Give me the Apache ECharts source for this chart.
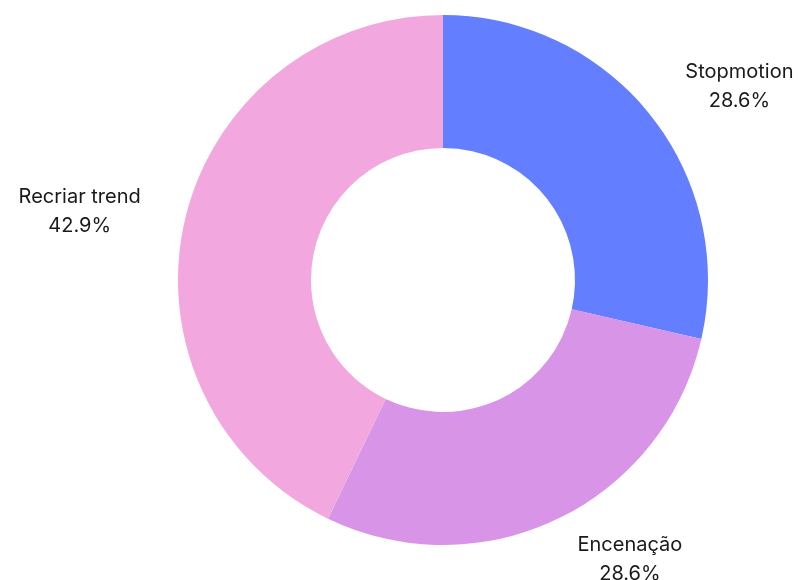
<!DOCTYPE html>
<html>
<head>
<meta charset="utf-8">
<script src="https://cdn.jsdelivr.net/npm/echarts@6/dist/echarts.min.js"></script>
<style>html,body{margin:0;padding:0;background:#fff;}#c{width:799px;height:580px;}</style>
</head>
<body>
<div id="c"></div>
<script>
const categories = ['Stopmotion', 'Encenação', 'Recriar trend'];
const values = [2, 2, 3];
const colors = ['#637EFE', '#D894E6', '#F2A7DF'];

const chart = echarts.init(document.getElementById('c'), null, {renderer: 'canvas'});
chart.setOption({
  animation: false,
  series: [{
    type: 'pie',
    center: [443, 280],
    radius: [132, 265],
    startAngle: 90,
    clockwise: true,
    avoidLabelOverlap: false,
    data: categories.map((c, i) => ({name: c, value: values[i], itemStyle: {color: colors[i]}})),
    label: {
      show: true,
      position: 'outside',
      formatter: p => p.name + '\n' + p.percent.toFixed(1) + '%',
      fontFamily: 'Inter',
      fontSize: 20,
      lineHeight: 29,
      color: '#1a1a1a',
      distanceToLabelLine: 0
    },
    labelLine: {show: false, length: 45, length2: 0},
    labelLayout: function (params) {
      const r = params.labelRect;
      return {x: r.x + r.width / 2, y: r.y + r.height / 2, align: 'center', verticalAlign: 'middle'};
    },
    emphasis: {disabled: true}
  }]
});
</script>
</body>
</html>
